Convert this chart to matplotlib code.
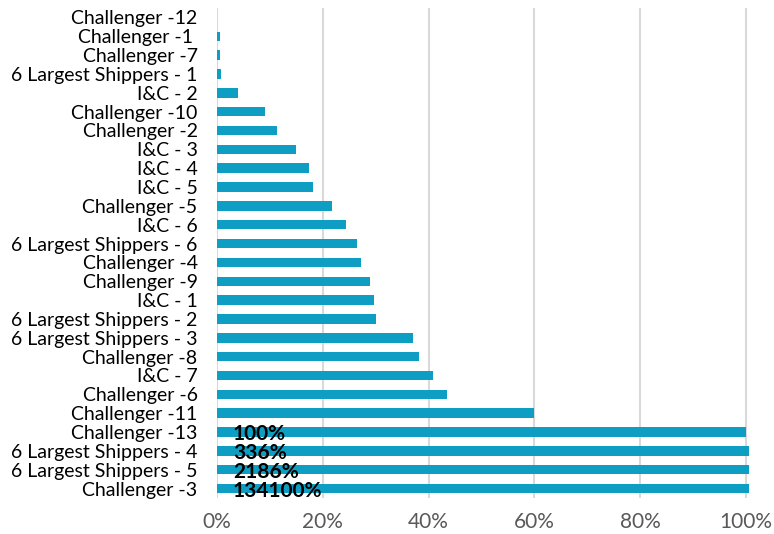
import matplotlib
matplotlib.use("Agg")
import matplotlib.pyplot as plt
from matplotlib.ticker import FuncFormatter

categories = [
    "Challenger -12", "Challenger -1 ", "Challenger -7", "6 Largest Shippers - 1",
    "I&C - 2", "Challenger -10", "Challenger -2", "I&C - 3", "I&C - 4", "I&C - 5",
    "Challenger -5", "I&C - 6", "6 Largest Shippers - 6", "Challenger -4",
    "Challenger -9", "I&C - 1", "6 Largest Shippers - 2", "6 Largest Shippers - 3",
    "Challenger -8", "I&C - 7", "Challenger -6", "Challenger -11", "Challenger -13",
    "6 Largest Shippers - 4", "6 Largest Shippers - 5", "Challenger -3",
]
values = [
    0.0, 0.5, 0.5, 0.8, 3.9, 9.0, 11.3, 15.0, 17.4, 18.2,
    21.7, 24.3, 26.5, 27.2, 28.9, 29.6, 30.1, 37.0,
    38.2, 40.9, 43.5, 60.0, 100.0, 336.0, 2186.0, 134100.0,
]
x_ticks = [0, 20, 40, 60, 80, 100]

plt.rcParams['font.family'] = ['Lato', 'DejaVu Sans']

fig = plt.figure(figsize=(7.74, 5.34), dpi=100)
ax = fig.add_axes([217/774, 1 - 498/534, (749 - 217)/774, (498 - 8)/534])

n = len(categories)
ypos = list(range(n))
ax.barh(ypos, values, height=0.5, color='#0F9EC3', zorder=3)

for y, v in zip(ypos, values):
    if v >= 100:
        ax.text(3.0, y + 0.12, f"{v:.0f}%", ha='left', va='center',
                fontsize=15, fontweight='bold', color='black', zorder=4)

ax.set_xlim(0, 100.6)
ax.set_ylim(n - 0.5, -0.5)
ax.set_yticks(ypos)
ax.set_yticklabels(categories, fontsize=14, color='black')
ax.set_xticks(x_ticks)
ax.xaxis.set_major_formatter(FuncFormatter(lambda x, p: f"{x:.0f}%"))
ax.tick_params(axis='x', labelsize=15, labelcolor='#595959', length=0, pad=10)
ax.tick_params(axis='y', length=0, pad=14)
ax.grid(axis='x', color='#D9D9D9', linewidth=1.5, zorder=0)
for s in ax.spines.values():
    s.set_visible(False)

fig.savefig("out.png", dpi=100)
